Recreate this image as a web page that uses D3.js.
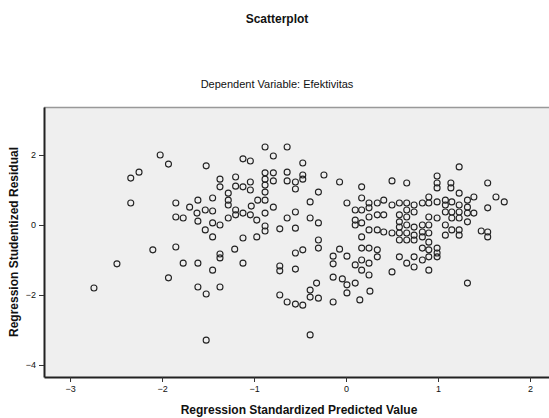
<!DOCTYPE html>
<html>
<head>
<meta charset="utf-8">
<script src="https://cdn.jsdelivr.net/npm/d3@7"></script>
<style>
  body { margin: 0; background: #fff; }
  text { font-family: "Liberation Sans", Arial, sans-serif; fill: #111; }
  .tick text { font-size: 9px; }
</style>
</head>
<body>
<section></section>
<script>
// predicted value (x) and studentized residual (y)
var predicted = [
  -2.74, -2.49, -2.34, -2.25, -2.34, -2.10, -2.02, -1.93, -1.85, -1.85, -1.85, -1.93,
  -1.52, -1.12, -1.04, -0.79, -0.88, -0.64, -0.47, -1.37, -1.37, -1.20, -1.20, -1.12,
  -1.04, -1.04, -0.88, -0.79, -0.88, -0.79, -0.88, -0.88, -0.64, -0.64, -0.55, -0.47,
  -0.47, -0.55, -0.24, -0.07, -1.45, -1.28, -1.28, -1.28, -1.70, -1.61, -1.53, -1.45,
  -1.77, -1.62, -1.61, -1.53, -1.45, -1.45, -1.37, -1.28, -1.20, -1.20, -1.12, -1.04,
  -1.03, -0.96, -0.88, -0.79, -0.88, -0.97, -0.88, -0.88, -1.12, -0.97, -0.72, -0.55,
  -0.64, -0.55, -0.39, -0.39, -0.30, -0.30, -0.30, -0.30, -1.21, -1.37, -1.37, -1.77,
  -1.61, -1.45, -1.12, -0.72, -0.72, -0.55, -0.55, -0.47, -1.61, -1.37, 0.01, 0.10,
  0.10, 0.10, -0.14, -0.07, 0.01, -0.14, 0.10, -0.14, -0.04, 0.01, 0.10,
  -1.52, -1.52, -0.72, -0.64, -0.55, -0.47, -0.39, -0.39, -0.30, -0.32, -0.14, -0.39,
  0.01, 0.15,
  1.23, 0.50, 0.66, 0.99, 0.99, 0.99, 1.14, 1.14, 1.54, 1.23, 1.39, 1.63, 1.72, 1.54,
  0.90, 0.90, 0.99, 1.08, 1.08, 1.15, 1.32, 1.32, 1.32, 1.39, 1.23, 1.23, 1.15, 1.08,
  1.15, 1.23, 1.32, 1.47, 1.54, 1.54, 1.23, 1.23, 1.15, 1.08, 1.08, 0.99, 0.90, 0.90,
  0.90, 0.90, 0.83, 0.83, 0.83, 0.83, 0.83, 0.90, 0.99, 0.99, 0.99, 0.90, 0.90, 0.74,
  0.74, 0.66, 0.58, 0.50, 0.83, 0.74, 0.74, 0.66, 0.66, 0.66, 0.58, 0.58, 0.58, 0.58,
  0.58, 0.58, 0.66, 0.66, 0.66, 0.74, 0.74, 0.74, 0.50, 0.50, 0.41, 0.41, 0.41, 0.34,
  0.34, 0.34, 0.34, 0.34, 0.25, 0.25, 0.25, 0.25, 0.25, 0.25, 0.25, 0.17, 0.17, 0.17,
  0.17, 0.17, 0.17, 0.17, 0.17, 1.32, 0.26
];
var residual = [
  -1.80, -1.11, 1.34, 1.51, 0.63, -0.71, 2.00, 1.74, 0.63, 0.23, -0.63, -1.51,
  1.69, 1.89, 1.83, 1.97, 2.23, 2.23, 1.77, 1.31, 1.09, 1.37, 1.11, 1.09,
  1.23, 1.00, 1.49, 1.49, 1.31, 1.26, 1.14, 0.94, 1.51, 1.26, 1.23, 1.43,
  1.31, 1.03, 1.43, 1.23, 0.77, 0.91, 0.71, 0.57, 0.51, 0.71, 0.43, 0.40,
  0.20, 0.34, 0.11, -0.14, 0.06, -0.34, 0.00, 0.20, 0.29, 0.43, 0.34, 0.29,
  0.54, 0.71, 0.71, 0.51, 0.34, 0.14, -0.03, -0.17, -0.37, -0.34, -0.11, 0.37,
  0.20, -0.09, 0.66, 0.20, 0.06, 0.94, -0.43, -0.66, -0.69, -0.83, -0.94, -1.09,
  -1.09, -1.29, -1.09, -1.17, -1.31, -1.26, -0.80, -0.71, -1.77, -1.77, 0.63, 0.43,
  0.14, 0.00, -0.89, -0.69, -0.89, -1.11, -1.14, -1.49, -1.54, -1.71, -1.66,
  -1.97, -3.29, -2.00, -2.20, -2.26, -2.29, -1.86, -2.06, -2.09, -1.66, -2.20, -3.14,
  -1.94, -2.14,
  1.66, 1.26, 1.20, 1.40, 1.20, 1.06, 1.20, 1.06, 1.20, 0.91, 0.80, 0.80, 0.66, 0.49,
  0.80, 0.63, 0.66, 0.71, 0.57, 0.66, 0.71, 0.51, 0.34, 0.34, 0.57, 0.37, 0.37, 0.37,
  0.20, 0.20, 0.09, -0.17, -0.20, -0.34, -0.14, -0.29, -0.14, 0.00, -0.29, 0.20, 0.23, 0.00,
  -0.23, -0.49, 0.00, -0.20, -0.34, -0.66, -1.00, -0.71, -0.66, -0.80, -0.91, -0.91, -1.29, -0.91,
  -1.20, -1.09, -0.91, -1.34, 0.63, 0.57, 0.37, 0.63, 0.43, 0.23, 0.63, 0.29, 0.09, -0.06,
  -0.23, -0.43, 0.00, -0.23, -0.43, -0.06, -0.29, -0.43, 0.57, -0.23, 0.71, 0.29, -0.20, 0.63,
  0.29, -0.14, -0.71, -0.91, 0.63, 0.49, 0.23, -0.14, -0.66, -1.09, -1.43, 1.09, 0.77, 0.43,
  0.06, -0.34, -0.66, -1.00, -1.29, -1.66, -1.89
];
var xTicks = [-3, -2, -1, 0, 1, 2];
var yTicks = [2, 0, -2, -4];

var points = predicted.map(function(d, i) { return {x: d, y: residual[i]}; });

var W = 549, H = 418;
var plot = {left: 44, top: 107, right: 553, bottom: 377};

var svg = d3.select("section").append("svg")
    .attr("width", W)
    .attr("height", H);

var x = d3.scaleLinear()
    .domain([-3.283, 2.25])
    .range([plot.left, plot.right]);
var y = d3.scaleLinear()
    .domain([-4.343, 3.371])
    .range([plot.bottom, plot.top]);

// titles
svg.append("text")
    .attr("x", 277).attr("y", 23)
    .attr("text-anchor", "middle")
    .style("font-size", "12px").style("font-weight", "bold")
    .text("Scatterplot");
svg.append("text")
    .attr("x", 277).attr("y", 88)
    .attr("text-anchor", "middle")
    .style("font-size", "11px")
    .text("Dependent Variable: Efektivitas");

// plot background
svg.append("rect")
    .attr("x", plot.left).attr("y", plot.top)
    .attr("width", plot.right - plot.left)
    .attr("height", plot.bottom - plot.top)
    .attr("fill", "#efefef");
svg.append("line")
    .attr("x1", plot.left).attr("x2", plot.right)
    .attr("y1", plot.top + 0.5).attr("y2", plot.top + 0.5)
    .attr("stroke", "#999").attr("stroke-width", 1.5);

// points
svg.append("g").selectAll("circle")
    .data(points)
    .enter().append("circle")
    .attr("cx", function(d) { return x(d.x); })
    .attr("cy", function(d) { return y(d.y); })
    .attr("r", 3)
    .attr("fill", "none")
    .attr("stroke", "#222")
    .attr("stroke-width", 1.1);

// axes
var fmt = d3.format("d");
var xAxis = svg.append("g")
    .attr("transform", "translate(0," + plot.bottom + ")")
    .call(d3.axisBottom(x).tickValues(xTicks).tickFormat(fmt).tickSize(5).tickPadding(4).tickSizeOuter(0));
var yAxis = svg.append("g")
    .attr("transform", "translate(" + plot.left + ",0)")
    .call(d3.axisLeft(y).tickValues(yTicks).tickFormat(fmt).tickSize(5).tickPadding(3).tickSizeOuter(0));
xAxis.select(".domain").attr("stroke", "#222").attr("stroke-width", 2);
yAxis.select(".domain").attr("stroke", "#222").attr("stroke-width", 2);
svg.selectAll(".tick line").attr("stroke", "#333");
svg.selectAll(".tick text").style("font-family", "'Liberation Sans', Arial, sans-serif");

// axis titles
svg.append("text")
    .attr("x", 299).attr("y", 414)
    .attr("text-anchor", "middle")
    .style("font-size", "12px").style("font-weight", "bold")
    .text("Regression Standardized Predicted Value");
svg.append("text")
    .attr("transform", "translate(18,242) rotate(-90)")
    .attr("text-anchor", "middle")
    .style("font-size", "12px").style("font-weight", "bold")
    .text("Regression Studentized Residual");
</script>
</body>
</html>
